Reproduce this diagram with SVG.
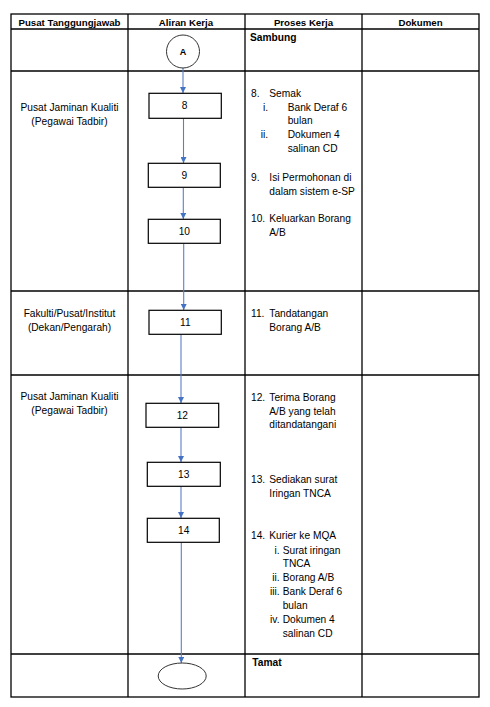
<svg xmlns="http://www.w3.org/2000/svg" width="490" height="707" viewBox="0 0 490 707">
<style>
  .grid{stroke:#000;stroke-width:1.3;fill:none}
  .box{fill:#fff;stroke:#000;stroke-width:1.2}
  .term{fill:#fff;stroke:#333;stroke-width:1}
  .hdr{font-family:"Liberation Sans",Arial,sans-serif;font-size:9.7px;font-weight:bold;fill:#000;text-anchor:middle}
  .t{font-family:"Liberation Sans",Arial,sans-serif;font-size:10.2px;fill:#000}
  .b{font-weight:bold}
  .c{text-anchor:middle}
  .e{text-anchor:end}
  .con{stroke:#5b7fc7;stroke-width:1.1;fill:none;marker-end:url(#arr)}
</style>
<defs>
  <marker id="arr" viewBox="0 0 6 6" refX="6" refY="3" markerWidth="6" markerHeight="6" markerUnits="userSpaceOnUse" orient="auto">
    <path d="M0,0 L6,3 L0,6 z" fill="#4472c4"/>
  </marker>
</defs>
<rect width="490" height="707" fill="#fff"/>
<g id="table">
  <rect class="grid" x="11" y="14" width="468" height="683"/>
  <line class="grid" x1="128" y1="14" x2="128" y2="697"/>
  <line class="grid" x1="245" y1="14" x2="245" y2="697"/>
  <line class="grid" x1="362" y1="14" x2="362" y2="697"/>
  <line class="grid" x1="11" y1="29" x2="479" y2="29"/>
  <line class="grid" x1="11" y1="71" x2="479" y2="71"/>
  <line class="grid" x1="11" y1="291" x2="479" y2="291"/>
  <line class="grid" x1="11" y1="375" x2="479" y2="375"/>
  <line class="grid" x1="11" y1="654" x2="479" y2="654"/>
  <text class="hdr" x="69.5" y="25.5">Pusat Tanggungjawab</text>
  <text class="hdr" x="186" y="25.5">Aliran Kerja</text>
  <text class="hdr" x="303.5" y="25.5">Proses Kerja</text>
  <text class="hdr" x="420.5" y="25.5">Dokumen</text>
</g>
<g id="lanes" class="t">
  <text class="t c" x="69.5" y="110.5">Pusat Jaminan Kualiti</text>
  <text class="t c" x="69.5" y="124.5">(Pegawai Tadbir)</text>
  <text class="t c" x="69.5" y="316.5">Fakulti/Pusat/Institut</text>
  <text class="t c" x="69.5" y="330.5">(Dekan/Pengarah)</text>
  <text class="t c" x="69.5" y="400">Pusat Jaminan Kualiti</text>
  <text class="t c" x="69.5" y="414">(Pegawai Tadbir)</text>
</g>
<g id="process">
  <text class="t b" x="250" y="40.7">Sambung</text>
  <text class="t" x="251" y="96.7">8.</text>
  <text class="t" x="269.3" y="96.7">Semak</text>
  <text class="t e" x="268" y="110.7">i.</text>
  <text class="t" x="287.7" y="110.7">Bank Deraf 6</text>
  <text class="t" x="287.7" y="124.4">bulan</text>
  <text class="t e" x="268" y="138.3">ii.</text>
  <text class="t" x="287.7" y="138.3">Dokumen 4</text>
  <text class="t" x="287.7" y="152">salinan CD</text>
  <text class="t" x="251" y="181">9.</text>
  <text class="t" x="269.3" y="181">Isi Permohonan di</text>
  <text class="t" x="269.3" y="194.5">dalam sistem e-SP</text>
  <text class="t" x="251" y="221.7">10.</text>
  <text class="t" x="269.3" y="221.7">Keluarkan Borang</text>
  <text class="t" x="269.3" y="235.7">A/B</text>
  <text class="t" x="251" y="316.7">11.</text>
  <text class="t" x="269.3" y="316.7">Tandatangan</text>
  <text class="t" x="269.3" y="330.7">Borang A/B</text>
  <text class="t" x="251" y="400.7">12.</text>
  <text class="t" x="269.3" y="400.7">Terima Borang</text>
  <text class="t" x="269.3" y="414.7">A/B yang telah</text>
  <text class="t" x="269.3" y="427.5">ditandatangani</text>
  <text class="t" x="251" y="483.3">13.</text>
  <text class="t" x="269.3" y="483.3">Sediakan surat</text>
  <text class="t" x="269.3" y="497.3">Iringan TNCA</text>
  <text class="t" x="251" y="539.3">14.</text>
  <text class="t" x="269.3" y="539.3">Kurier ke MQA</text>
  <text class="t e" x="279.5" y="553.5">i.</text>
  <text class="t" x="282.7" y="553.5">Surat iringan</text>
  <text class="t" x="282.7" y="567.3">TNCA</text>
  <text class="t e" x="279.5" y="581.3">ii.</text>
  <text class="t" x="282.7" y="581.3">Borang A/B</text>
  <text class="t e" x="279.5" y="595.3">iii.</text>
  <text class="t" x="282.7" y="595.3">Bank Deraf 6</text>
  <text class="t" x="282.7" y="609.3">bulan</text>
  <text class="t e" x="279.5" y="623.3">iv.</text>
  <text class="t" x="282.7" y="623.3">Dokumen 4</text>
  <text class="t" x="282.7" y="636.7">salinan CD</text>
  <text class="t b" x="252.3" y="666">Tamat</text>
</g>
<g id="connectors">
  <line class="con" x1="183" y1="68" x2="183" y2="93"/>
  <line class="con" x1="183.5" y1="118.5" x2="183.5" y2="163"/>
  <line class="con" x1="183.3" y1="187.5" x2="183.3" y2="219"/>
  <line class="con" x1="183.7" y1="243.5" x2="183.7" y2="310"/>
  <line class="con" x1="181" y1="334.5" x2="181" y2="403"/>
  <line class="con" x1="181" y1="427.5" x2="181" y2="462"/>
  <line class="con" x1="181" y1="486.5" x2="181" y2="518"/>
  <line class="con" x1="181.3" y1="542.5" x2="181.3" y2="663"/>
</g>
<g id="nodeA">
  <circle class="term" cx="183" cy="51.5" r="16.5"/>
  <text class="t b c" x="183" y="55" style="font-size:9px">A</text>
</g>
<g id="node8"><rect class="box" x="149" y="93.3" width="72.3" height="25"/><text class="t c" x="184.7" y="109">8</text></g>
<g id="node9"><rect class="box" x="148.3" y="163.3" width="72" height="24"/><text class="t c" x="184.3" y="178.5">9</text></g>
<g id="node10"><rect class="box" x="148.3" y="219.3" width="72" height="24"/><text class="t c" x="184.3" y="234.5">10</text></g>
<g id="node11"><rect class="box" x="149" y="310.3" width="72.3" height="24"/><text class="t c" x="185.3" y="325.5">11</text></g>
<g id="node12"><rect class="box" x="146" y="403.3" width="72.7" height="24"/><text class="t c" x="182.3" y="418.5">12</text></g>
<g id="node13"><rect class="box" x="147.3" y="462.3" width="73" height="24"/><text class="t c" x="183.7" y="477.5">13</text></g>
<g id="node14"><rect class="box" x="147.3" y="518.3" width="72" height="24"/><text class="t c" x="183.7" y="534">14</text></g>
<g id="nodeEnd"><ellipse class="term" cx="182.2" cy="676" rx="24" ry="13"/></g>
</svg>
